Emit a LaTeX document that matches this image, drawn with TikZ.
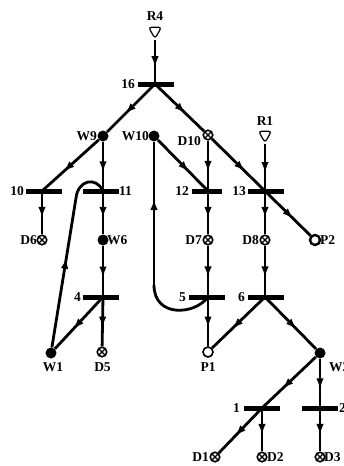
\documentclass[tikz,border=0pt]{standalone}
\usepackage{fontspec}
\setmainfont{Liberation Serif}
\usetikzlibrary{arrows.meta,decorations.markings,shapes.geometric,backgrounds}
\begin{document}
\begin{tikzpicture}[x=1pt,y=-1pt,
  conn/.style={line width=2.8pt},
  curvearc/.style={line width=2.8pt, line cap=round},
  flow/.style={conn, postaction={decorate},
    decoration={markings, mark=at position #1 with {\arrow{Latex[length=11pt,width=7.5pt]}}}},
  flow/.default=0.62,
  trans/.style={fill=black, minimum width=36pt, minimum height=5pt, inner sep=0pt, outer sep=0pt},
  wplace/.style={circle, fill=black, minimum size=11pt, inner sep=0pt},
  dplace/.style={circle, draw, fill=white, line width=1.6pt, minimum size=9.5pt, inner sep=0pt,
    path picture={\draw[line width=1.2pt]
      (path picture bounding box.north west) -- (path picture bounding box.south east)
      (path picture bounding box.north east) -- (path picture bounding box.south west);}},
  pdot/.style={circle, draw, fill=white, line width=1.6pt, minimum size=10pt, inner sep=0pt,
    path picture={\fill (path picture bounding box.center) circle (2pt);}},
  pring/.style={circle, draw, fill=white, line width=2.4pt, minimum size=10pt, inner sep=0pt},
  rplace/.style={regular polygon, regular polygon sides=3, shape border rotate=180, draw, fill=white,
    line width=1.2pt, minimum size=15pt, inner sep=0pt, rounded corners=3pt},
  lbl/.style={font=\bfseries\fontsize{13.5}{13.5}\selectfont, inner sep=0pt},
]
\useasboundingbox (0,0) rectangle (344,466);
\clip (0,0) rectangle (344,466);

% places and transitions
\node[rplace] (R4) at (155,31) {};
\node[lbl] (lR4) at (155,16) {R4};
\node[trans] (t16) at (156,84) {};
\node[lbl,anchor=east] (l16) at (135,84) {16};
\node[wplace] (W9) at (103,136) {};
\node[lbl,anchor=east] (lW9) at (97,136) {W9};
\node[wplace] (W10) at (154,136) {};
\node[lbl,anchor=east] (lW10) at (149,136) {W10};
\node[dplace] (D10) at (208,135) {};
\node[lbl,anchor=east] (lD10) at (201,141) {D10};
\node[trans] (t10) at (44,191) {};
\node[lbl,anchor=east] (l10) at (24,191) {10};
\node[trans] (t11) at (101,191) {};
\node[lbl,anchor=west] (l11) at (119,191) {11};
\node[dplace] (D6) at (42,240) {};
\node[lbl,anchor=east] (lD6) at (37,240) {D6};
\node[wplace] (W6) at (103,240) {};
\node[lbl,anchor=west] (lW6) at (107,240) {W6};
\node[trans] (t4) at (101,297) {};
\node[lbl,anchor=east] (l4) at (81,297) {4};
\node[wplace] (W1) at (51,353) {};
\node[lbl] (lW1) at (53,367) {W1};
\node[dplace] (D5) at (102,352) {};
\node[lbl] (lD5) at (102.5,367) {D5};
\node[trans, minimum width=30pt] (t12) at (207,191) {};
\node[lbl,anchor=east] (l12) at (189,191) {12};
\node[rplace] (R1) at (265,135) {};
\node[lbl] (lR1) at (265,121) {R1};
\node[trans] (t13) at (266,191) {};
\node[lbl,anchor=east] (l13) at (246,191) {13};
\node[dplace] (D7) at (208,240) {};
\node[lbl,anchor=east] (lD7) at (202,240) {D7};
\node[dplace] (D8) at (265,240) {};
\node[lbl,anchor=east] (lD8) at (259,240) {D8};
\node[pring] (P2) at (315,240) {};
\node[lbl,anchor=west] (lP2) at (320,240) {P2};
\node[trans] (t5) at (207,297) {};
\node[lbl,anchor=east] (l5) at (186,297) {5};
\node[trans] (t6) at (266,297) {};
\node[lbl,anchor=east] (l6) at (245,297) {6};
\node[pdot] (P1) at (208,352) {};
\node[lbl] (lP1) at (208,367) {P1};
\node[wplace] (W2) at (320,353) {};
\node[lbl,anchor=west] (lW2) at (329,367) {W2};
\node[trans] (t1) at (262,408) {};
\node[lbl,anchor=east] (l1) at (240,408) {1};
\node[trans] (t2) at (320,408) {};
\node[lbl,anchor=west] (l2) at (339,408) {2};
\node[dplace] (D1) at (215,457) {};
\node[lbl,anchor=east] (lD1) at (209,457) {D1};
\node[dplace] (D2) at (262,457) {};
\node[lbl,anchor=west] (lD2) at (267,457) {D2};
\node[dplace] (D3) at (320,457) {};
\node[lbl,anchor=west] (lD3) at (324,457) {D3};

\coordinate (k1) at (76,198);
\coordinate (k2) at (154,285);

% arcs
\begin{scope}[on background layer]
\draw[flow] (R4) -- (t16.center -| R4);
\draw[flow] (t16.center -| R4) -- (W9);
\draw[flow] (t16.center -| R4) -- (D10);
\draw[flow] (D10) -- (t13.center -| R1);
\draw[flow] (t13.center -| R1) -- (P2);
\draw[flow] (W9) -- (t10.center -| D6);
\draw[flow] (W9) -- (t11.center -| W9);
\draw[flow] (t10.center -| D6) -- (D6);
\draw[flow] (t11.center -| W9) -- (W6);
\draw[flow] (W6) -- (t4.center -| W6);
\draw[flow] (t4.center -| W6) -- (W1);
\draw[flow] (t4.center -| W6) -- (D5);
\draw[flow=0.6] (W1) -- (k1);
\draw[curvearc] (k1) .. controls (78,180) and (96,176) .. (t11.center -| W9);
\draw[flow] (W10) -- (t12.center -| D10);
\draw[flow] (D10) -- (t12.center -| D10);
\draw[flow] (t12.center -| D10) -- (D7);
\draw[flow] (R1) -- (t13.center -| R1);
\draw[flow] (t13.center -| R1) -- (D8);
\draw[flow] (D7) -- (t5.center -| D7);
\draw[flow] (D8) -- (t6.center -| D8);
\draw[flow] (t5.center -| D7) -- (P1);
\draw[curvearc] (t5.center -| D7) .. controls (195,315) and (154,318) .. (k2);
\draw[flow=0.6] (k2) -- (W10);
\draw[flow] (t6.center -| D8) -- (P1);
\draw[flow] (t6.center -| D8) -- (W2);
\draw[flow] (W2) -- (t1.center);
\draw[flow] (t1.center) -- (D1);
\draw[flow] (t1.center) -- (D2);
\draw[flow] (W2) -- (t2.center);
\draw[flow] (t2.center) -- (D3);
\end{scope}
\end{tikzpicture}
\end{document}
